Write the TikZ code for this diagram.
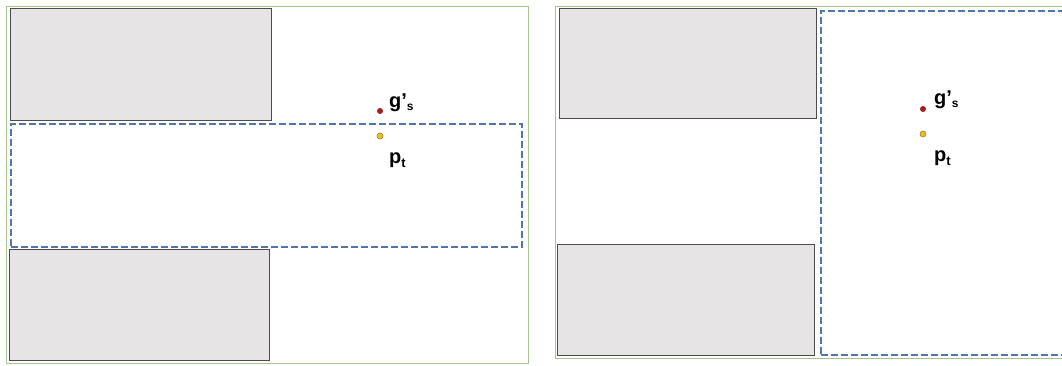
\documentclass[tikz,border=0pt]{standalone}
\usepackage{fontspec}
\setmainfont{Liberation Sans}
\begin{document}
\begin{tikzpicture}[x=1pt,y=-1pt,
  block/.style={draw=black!70, line width=1pt, fill=blockgray, inner sep=0pt, anchor=north west},
  frame/.style={draw=framegreen, line width=1pt, inner sep=0pt, anchor=north west},
  region/.style={draw=dashblue, dash pattern=on 7pt off 3pt, line width=2.2pt, inner sep=0pt, anchor=north west},
  gdot/.style={circle, fill=dotred, inner sep=0pt, minimum size=6pt},
  pdot/.style={circle, fill=dotyellow, draw=dotyellow!70!black, line width=0.6pt, inner sep=0pt, minimum size=6pt},
  lbl/.style={font=\fontsize{20}{22}\selectfont\bfseries, anchor=west, inner sep=0pt}]
\definecolor{blockgray}{HTML}{E7E4E5}
\definecolor{dashblue}{HTML}{4F76AE}
\definecolor{dotred}{HTML}{A31F17}
\definecolor{dotyellow}{HTML}{EDBB2E}
\definecolor{framegreen}{HTML}{A9C18A}
\useasboundingbox (0,0) rectangle (1062,365);
% left panel
\node[frame, minimum width=522pt, minimum height=357pt] (L) at (6,6) {};
\node[block, minimum width=261pt, minimum height=112pt] (LA) at (10,8) {};
\node[block, minimum width=260pt, minimum height=111pt] (LB) at (9,249) {};
\node[region, minimum width=511pt, minimum height=123pt] (LR) at (10,123) {};
\node[gdot] (lg) at (380,111) {};
\node[pdot] (lp) at (380,136) {};
\node[lbl] (lgl) at (389,103) {g’\raisebox{-0.3ex}{\fontsize{12}{12}\selectfont s}};
\node[lbl] (lpl) at (389,160) {p\raisebox{-0.4ex}{\fontsize{13}{13}\selectfont t}};
% right panel
\node[frame, minimum width=520pt, minimum height=352pt] (R) at (555,6) {};
\node[block, minimum width=257pt, minimum height=110pt] (RA) at (559,8) {};
\node[block, minimum width=257pt, minimum height=111pt] (RB) at (557,244) {};
\node[region, minimum width=260pt, minimum height=344pt] (RR) at (820,10) {};
\node[gdot] (rg) at (923,109) {};
\node[pdot] (rp) at (923,134) {};
\node[lbl] (rgl) at (934,100) {g’\raisebox{-0.3ex}{\fontsize{12}{12}\selectfont s}};
\node[lbl] (rpl) at (934,158) {p\raisebox{-0.4ex}{\fontsize{13}{13}\selectfont t}};
\end{tikzpicture}
\end{document}
